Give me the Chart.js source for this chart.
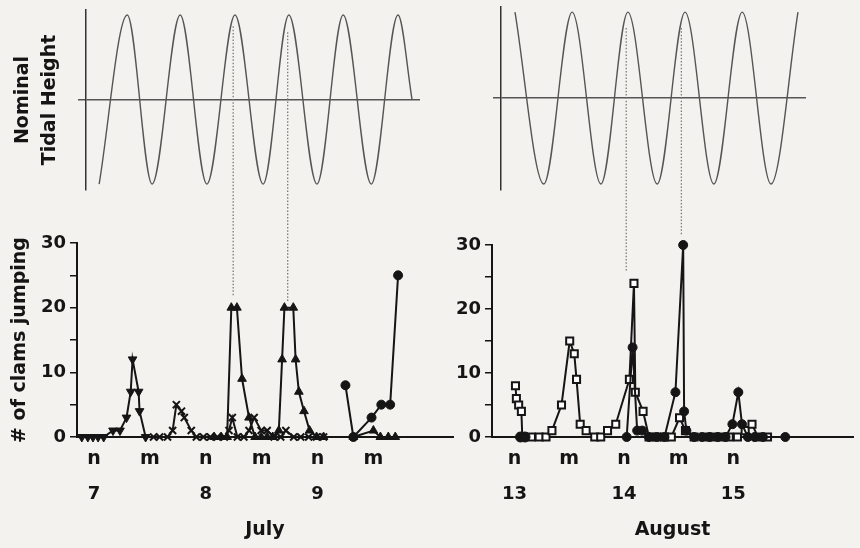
<!DOCTYPE html>
<html><head><meta charset="utf-8">
<script src="https://cdn.jsdelivr.net/npm/chart.js@4"></script>
<style>
html,body{margin:0;padding:0;background:#f4f2ef;}
#wrap{position:relative;width:860px;height:548px;overflow:hidden;background:#f4f2ef;}
canvas{position:absolute;top:0;}
</style></head><body>
<div id="wrap">
<canvas id="tideJuly" width="460" height="200" style="left:0;width:460px;height:200px"></canvas>
<canvas id="tideAug" width="430" height="200" style="left:430px;width:430px;height:200px"></canvas>
<canvas id="clamsJuly" width="460" height="548" style="left:0;width:460px;height:548px"></canvas>
<canvas id="clamsAug" width="430" height="548" style="left:430px;width:430px;height:548px"></canvas>
</div>
<script>
// ---- Axis ticks (hours after 00:00 of first day shown) ----
const julyTimeTicks = [12, 24, 36, 48, 60, 72];
const julyTimeLabels = ['n', 'm', 'n', 'm', 'n', 'm'];
const julyDayTicks = [12, 36, 60];
const julyDayLabels = ['7', '8', '9'];
const augTimeTicks = [12, 24, 36, 48, 60];
const augTimeLabels = ['n', 'm', 'n', 'm', 'n'];
const augDayTicks = [12, 36, 60];
const augDayLabels = ['13', '14', '15'];

// ---- Nominal tide: times of highs (+1) and lows (-1) ----
const julyTideHours = [13.1, 19.1, 24.4, 30.4, 36.1, 42.1, 48.1, 53.6, 59.6, 65.2, 71.2, 76.9, 79.9];
const julyTideLevel = [-1, 1, -1, 1, -1, 1, -1, 1, -1, 1, -1, 1, 0];
const augTideHours = [12.0, 18.2, 24.3, 30.5, 36.3, 42.6, 48.6, 54.8, 60.9, 67.1, 72.9];
const augTideLevel = [1, -1, 1, -1, 1, -1, 1, -1, 1, -1, 1];

// ---- July: # of clams jumping ----
const julyDownTriHours = [9.4, 10.7, 11.8, 12.9, 14.1, 16.1, 17.6, 19.0, 19.9, 20.3, 21.6, 21.8, 23.1];
const julyDownTriCounts = [0, 0, 0, 0, 0, 1, 1, 3, 7, 12, 7, 4, 0];
const julyCrossHours = [24.8, 26.1, 27.8, 28.9, 29.7, 30.8, 31.4, 32.9, 34.0, 35.5, 37.0, 38.5, 40.0, 41.0, 41.7, 42.8, 44.2, 45.3, 46.4, 47.9, 49.2, 50.7, 52.1, 53.2, 54.9, 56.4, 58.1, 59.8, 61.3];
const julyCrossCounts = [0, 0, 0, 1, 5, 4, 3, 1, 0, 0, 0, 0, 0, 1, 3, 0, 0, 1, 3, 1, 1, 0, 0, 1, 0, 0, 0, 0, 0];
const julyUpTriHours = [37.8, 39.3, 40.6, 41.5, 42.7, 43.8, 45.3, 46.6, 47.9, 49.2, 50.4, 51.7, 52.4, 52.9, 54.8, 55.3, 56.0, 57.1, 58.3, 59.8, 61.3];
const julyUpTriCounts = [0, 0, 0, 20, 20, 9, 3, 0, 0, 0, 0, 1, 12, 20, 20, 12, 7, 4, 1, 0, 0];
const julyUpTri2Hours = [67.7, 72.0, 73.5, 75.2, 76.7];
const julyUpTri2Counts = [0, 1, 0, 0, 0];
const julyCircleHours = [66.0, 67.7, 71.6, 73.7, 75.6, 77.3];
const julyCircleCounts = [8, 0, 3, 5, 5, 25];
// dotted links from tide highs down to jumping peaks
const julyLinkHours = [41.9, 53.6];
const julyLinkTop = [63.5, 62.6];
const julyLinkBottom = [21.7, 20.9];

// ---- August: # of clams jumping ----
const augSquareHours = [12.2, 12.4, 12.9, 13.5, 13.7, 15.7, 17.4, 18.9, 20.2, 22.3, 24.1, 25.1, 25.6, 26.4, 27.7, 29.6, 30.9, 32.4, 34.2, 37.2, 38.2, 38.5, 40.2, 41.5, 43.2, 44.9, 46.4, 48.2, 49.5, 51.4, 54.0, 55.7, 57.4, 59.1, 60.9, 62.6, 64.1, 65.4, 67.5];
const augSquareCounts = [8, 6, 5, 4, 0, 0, 0, 0, 1, 5, 15, 13, 9, 2, 1, 0, 0, 1, 2, 9, 24, 7, 4, 0, 0, 0, 0, 3, 1, 0, 0, 0, 0, 0, 0, 1, 2, 0, 0];
const augDot1Hours = [13.3, 14.3];
const augDot1Counts = [0, 0];
const augDot2Hours = [36.6, 37.9, 38.9, 40.0, 41.5, 43.2, 44.9, 47.3, 49.0, 49.2, 49.7, 51.4, 53.1, 54.8, 56.6, 58.3, 59.8, 61.1, 61.9, 63.2, 64.7, 66.5, 71.4];
const augDot2Counts = [0, 14, 1, 1, 0, 0, 0, 7, 30, 4, 1, 0, 0, 0, 0, 0, 2, 7, 2, 0, 0, 0, 0];
const augLinkHours = [36.5, 48.6];
const augLinkTop = [63.9, 63.9];
const augLinkBottom = [25.8, 31.6];

// ---------------------------------------------------------------
Chart.defaults.font.family = "'DejaVu Sans', 'Liberation Sans', sans-serif";
Chart.defaults.font.weight = 'bold';
Chart.defaults.color = '#151515';

const INK = '#151515';
const pts = (xs, ys) => xs.map((x, i) => ({ x: x, y: ys[i] }));

function tideChart(id, hours, levels, xMin, xMax, axisW, pad, title) {
  return new Chart(document.getElementById(id), {
    type: 'line',
    data: { datasets: [{
      data: pts(hours, levels), borderColor: '#555', borderWidth: 1.4,
      pointRadius: 0, cubicInterpolationMode: 'monotone', fill: false, clip: false
    }] },
    options: {
      responsive: false, animation: false, devicePixelRatio: 1,
      layout: { padding: pad },
      plugins: { legend: { display: false }, tooltip: { enabled: false } },
      scales: {
        x: { type: 'linear', display: false, min: xMin, max: xMax },
        y: {
          type: 'linear', min: -1.07, max: 1.06,
          afterBuildTicks: s => { s.ticks = [{ value: 0 }]; },
          afterFit: s => { s.width = axisW; },
          ticks: { display: false },
          grid: { display: true, drawOnChartArea: true, drawTicks: true, tickLength: 8, color: '#555', lineWidth: 1.5 },
          border: { display: true, color: '#333', width: 1.5 },
          title: title ? { display: true, text: title, color: INK,
            font: { size: 19, weight: 'bold', lineHeight: 1.42 }, padding: { top: 10, bottom: 0 } } : { display: false }
        }
      }
    }
  });
}

tideChart('tideJuly', julyTideHours, julyTideLevel, 10.29, 81.6, 86,
  { left: 0, right: 40, top: 10, bottom: 10 }, ['Nominal', 'Tidal Height']);
tideChart('tideAug', augTideHours, augTideLevel, 8.99, 74.63, 71,
  { left: 0, right: 54, top: 7, bottom: 10 }, null);

function series(xs, ys, style) {
  return Object.assign({
    data: pts(xs, ys), borderColor: INK, borderWidth: 2, fill: false, clip: false,
    pointBackgroundColor: INK, pointBorderColor: INK, pointBorderWidth: 1,
    pointRadius: 5, tension: 0
  }, style);
}
function links(hours, tops, bottoms) {
  return hours.map((h, i) => ({
    data: [{ x: h, y: tops[i] }, { x: h, y: bottoms[i] }],
    borderColor: '#7a7a7a', borderWidth: 1.3, borderDash: [1.5, 1.8],
    pointRadius: 0, fill: false, clip: false
  }));
}

function clamChart(id, datasets, xMin, xMax, yW, padRight, padTop, tt, tl, dt, dl, month, yTitle) {
  return new Chart(document.getElementById(id), {
    type: 'line',
    data: { datasets: datasets },
    options: {
      responsive: false, animation: false, devicePixelRatio: 1,
      layout: { padding: { left: 0, right: padRight, top: padTop, bottom: 0 } },
      plugins: { legend: { display: false }, tooltip: { enabled: false } },
      scales: {
        x: {
          type: 'linear', position: 'bottom', weight: 1, min: xMin, max: xMax,
          afterBuildTicks: s => { s.ticks = tt.map(v => ({ value: v })); },
          afterFit: s => { s.height = 40; },
          ticks: { callback: v => tl[tt.indexOf(v)], autoSkip: false, maxRotation: 0,
                   font: { size: 19, weight: 'bold' }, padding: 11, color: INK },
          grid: { display: false, drawTicks: false },
          border: { display: true, color: INK, width: 2 }
        },
        xDay: {
          type: 'linear', position: 'bottom', weight: 2, min: xMin, max: xMax,
          afterBuildTicks: s => { s.ticks = dt.map(v => ({ value: v })); },
          afterFit: s => { s.height = 71; },
          ticks: { callback: v => dl[dt.indexOf(v)], autoSkip: false, maxRotation: 0,
                   font: { size: 18, weight: 'bold' }, padding: 7, color: INK },
          grid: { display: false, drawTicks: false },
          border: { display: false },
          title: { display: true, text: month, color: INK, font: { size: 19, weight: 'bold' },
                   padding: { top: 0, bottom: 7 } }
        },
        y: {
          type: 'linear', min: 0, max: 30,
          afterFit: s => { s.width = yW; },
          ticks: { stepSize: 5, callback: v => (v % 10 === 0 ? v : ''),
                   font: { size: 18, weight: 'bold' }, padding: 4, color: INK },
          grid: { display: true, drawOnChartArea: false, drawTicks: true, tickLength: 7, color: INK, lineWidth: 1.5 },
          border: { display: true, color: INK, width: 2 },
          title: yTitle ? { display: true, text: yTitle, color: INK,
                   font: { size: 19, weight: 'bold' }, padding: { top: 9, bottom: 0 } } : { display: false }
        }
      }
    }
  });
}

clamChart('clamsJuly', [
  series(julyDownTriHours, julyDownTriCounts, { pointStyle: 'triangle', pointRotation: 180 }),
  series(julyCrossHours, julyCrossCounts, { pointStyle: 'crossRot', pointBorderWidth: 2 }),
  series(julyUpTriHours, julyUpTriCounts, { pointStyle: 'triangle' }),
  series(julyUpTri2Hours, julyUpTri2Counts, { pointStyle: 'triangle' }),
  series(julyCircleHours, julyCircleCounts, { pointStyle: 'circle', pointRadius: 4.5 })
].concat(links(julyLinkHours, julyLinkTop, julyLinkBottom)),
  8.37, 89.09, 77, 5, 243, julyTimeTicks, julyTimeLabels, julyDayTicks, julyDayLabels, 'July', '# of clams jumping');

clamChart('clamsAug', [
  series(augDot1Hours, augDot1Counts, { pointStyle: 'circle', pointRadius: 5 }),
  series(augDot2Hours, augDot2Counts, { pointStyle: 'circle', pointRadius: 4.5 }),
  series(augSquareHours, augSquareCounts, { pointStyle: 'rect', pointRadius: 5,
    pointBackgroundColor: '#ffffff', pointBorderColor: INK, pointBorderWidth: 2 })
].concat(links(augLinkHours, augLinkTop, augLinkBottom)),
  7.05, 86.26, 62, 0, 245, augTimeTicks, augTimeLabels, augDayTicks, augDayLabels, 'August', null);
</script>
</body></html>
